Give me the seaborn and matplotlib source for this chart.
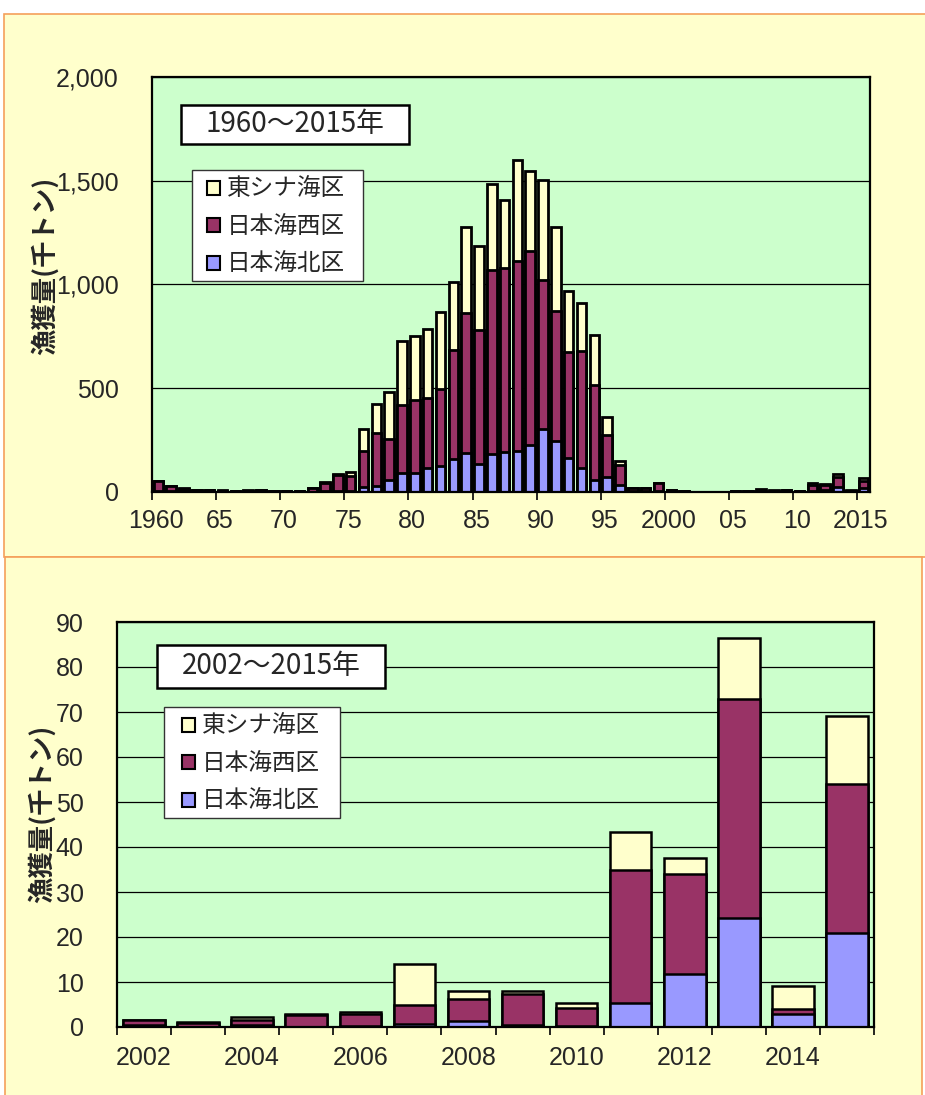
import numpy as np
import pandas as pd
import matplotlib
matplotlib.use('Agg')
import matplotlib.pyplot as plt
import seaborn as sns
from matplotlib.patches import Patch, Rectangle
from matplotlib.font_manager import FontProperties

sns.set_style('white')
plt.rcParams['font.family'] = ['Liberation Sans', 'Noto Sans CJK JP', 'DejaVu Sans']

# 漁獲量 (千トン), 1960〜2015年
years = list(range(1960, 2016))
# 日本海北区
north = [3, 3, 3, 2, 2, 2, 1, 1, 2, 1,
         1, 1, 2, 3, 3, 5, 22, 30, 58, 90,
         90, 114, 127, 159, 186, 135, 183, 191, 199, 226,
         306, 245, 162, 114, 58, 74, 32, 5, 4, 3,
         1, 0.5, 0.4, 0.1, 0.4, 0.1, 0.3, 0.6, 1.3, 0.5,
         0.3, 5.4, 11.7, 24.3, 2.8, 20.8]
# 日本海西区
west = [48, 25, 13, 7, 6, 5, 5, 6, 6, 4,
        2, 3, 15, 42, 77, 70, 175, 252, 197, 331,
        355, 339, 371, 524, 676, 647, 888, 888, 916, 937,
        716, 625, 513, 564, 456, 203, 98, 14, 15, 40,
        8, 3, 1.1, 0.9, 1.1, 2.5, 2.7, 4.2, 5.0, 6.9,
        4.0, 29.4, 22.2, 48.7, 1.1, 33.3]
# 東シナ海区
east = [3, 2, 2, 1, 1, 1, 1, 1, 1, 1,
        1, 1, 3, 5, 7, 20, 109, 141, 227, 305,
        305, 334, 369, 331, 414, 405, 413, 330, 486, 382,
        481, 406, 296, 234, 244, 85, 20, 1, 1, 2,
        1, 0.5, 0.1, 0.1, 0.7, 0.2, 0.3, 9.1, 1.6, 0.6,
        1.1, 8.5, 3.7, 13.4, 5.2, 15.0]

series_names = ['東シナ海区', '日本海西区', '日本海北区']
top_tick_labels = ['1960', '65', '70', '75', '80', '85', '90', '95',
                   '2000', '05', '10', '2015']
top_yticks = [0, 500, 1000, 1500, 2000]
top_ylabels = ['0', '500', '1,000', '1,500', '2,000']
bottom_start = 2002
bottom_yticks = list(range(0, 91, 10))

YELLOW = '#FFFFCC'
PURPLE = '#993366'
BLUE = '#9999FF'
GREEN = '#CCFFCC'
ORANGE = '#F5A05A'

W, H = 925, 1095
fig = plt.figure(figsize=(W / 100, H / 100), dpi=100)
fig.patch.set_facecolor('white')


def fx(px):
    return px / W


def fy(py):
    return 1 - py / H


# panel backgrounds
fig.add_artist(Rectangle((fx(4), fy(557)), fx(930 - 4), (557 - 14) / H,
                         transform=fig.transFigure, fc=YELLOW, ec=ORANGE,
                         lw=1.2, zorder=-2))
fig.add_artist(Rectangle((fx(5), fy(1100)), fx(922 - 5), (1100 - 557) / H,
                         transform=fig.transFigure, fc=YELLOW, ec=ORANGE,
                         lw=1.2, zorder=-1))

df = pd.DataFrame({'year': years, 'north': north, 'west': west, 'east': east})
df['label'] = df['year'].astype(str)
df['nw'] = df['north'] + df['west']
df['total'] = df['nw'] + df['east']


def draw_stack(ax, d, width, lw):
    order = d['label'].tolist()
    for col, c in [('total', YELLOW), ('nw', PURPLE), ('north', BLUE)]:
        sns.barplot(data=d, x='label', y=col, order=order, color=c,
                    saturation=1, width=width, edgecolor='black',
                    linewidth=lw, errorbar=None, ax=ax)
    ax.set_facecolor(GREEN)
    for s in ax.spines.values():
        s.set_visible(True)
        s.set_color('black')
        s.set_linewidth(1.6)
    ax.set_axisbelow(True)
    ax.yaxis.grid(True, color='black', linewidth=0.9)
    ax.xaxis.grid(False)
    ax.set_xlabel('')
    ax.set_ylabel('')
    ax.tick_params(axis='y', left=False, length=0, pad=24, labelsize=18)
    ax.tick_params(axis='x', which='minor', bottom=True, length=6,
                   width=1.2, color='black')
    ax.tick_params(axis='x', which='major', bottom=True, length=0,
                   labelsize=18)


def add_legend(box, anchor):
    # frame drawn separately so padding can match the original box
    x0, y0, x1, y1 = box
    fig.add_artist(Rectangle((fx(x0), fy(y1)), fx(x1 - x0), (y1 - y0) / H,
                             transform=fig.transFigure, fc='white',
                             ec='#333333', lw=1.0, zorder=4))
    handles = [Patch(facecolor=c, edgecolor='black', linewidth=1.5)
               for c in [YELLOW, PURPLE, BLUE]]
    fig.legend(handles, series_names, loc='upper left',
               bbox_to_anchor=(fx(anchor[0]), fy(anchor[1])),
               borderaxespad=0, borderpad=0, frameon=False,
               prop=FontProperties(family='Noto Sans CJK JP', size=17),
               handlelength=0.55, handleheight=0.55, handletextpad=0.3,
               labelspacing=0.62)


def add_title_box(x0, y0, x1, y1, text):
    fig.add_artist(Rectangle((fx(x0), fy(y1)), fx(x1 - x0), (y1 - y0) / H,
                             transform=fig.transFigure, fc='white',
                             ec='black', lw=1.8, zorder=4))
    fig.text(fx((x0 + x1) / 2), fy((y0 + y1) / 2), text, ha='center',
             va='center', fontsize=20, family=['Noto Sans CJK JP'], zorder=5)


# ---- 上段: 1960〜2015年 ----
ax1 = fig.add_axes([fx(152), fy(492), fx(870 - 152), (492 - 77) / H])
draw_stack(ax1, df, 0.74, 2.0)
n = len(df)
ax1.set_xlim(-0.5, n - 0.5)
ax1.set_ylim(0, 2000)
ax1.set_yticks(top_yticks, top_ylabels)
major_pos = [i - 0.2 for i in range(0, n, 5)]
ax1.set_xticks(major_pos, top_tick_labels)
ax1.set_xticks([i - 0.5 for i in range(0, n, 5)], minor=True)
ax1.tick_params(axis='x', which='major', pad=12)
add_legend((192, 170, 363, 281), (207, 178))
add_title_box(181, 105, 409, 144, '1960～2015年')
fig.text(fx(45), fy(266), '漁獲量(千トン)', rotation=90, ha='center',
         va='center', fontsize=19, fontweight='bold',
         family=['Noto Sans CJK JP'])

# ---- 下段: 2002〜2015年 ----
d2 = df[df['year'] >= bottom_start].reset_index(drop=True)
ax2 = fig.add_axes([fx(117), fy(1027), fx(874 - 117), (1027 - 622) / H])
draw_stack(ax2, d2, 0.77, 1.8)
m = len(d2)
ax2.set_xlim(-0.5, m - 0.5)
ax2.set_ylim(0, 90)
ax2.set_yticks(bottom_yticks, [str(v) for v in bottom_yticks])
ax2.set_xticks(list(range(0, m, 2)), d2['label'].tolist()[::2])
ax2.set_xticks([i - 0.5 for i in range(0, m + 1)], minor=True)
ax2.tick_params(axis='x', which='major', pad=14)
add_legend((164, 707, 340, 818), (182, 715))
add_title_box(157, 645, 385, 688, '2002～2015年')
fig.text(fx(42), fy(814), '漁獲量(千トン)', rotation=90, ha='center',
         va='center', fontsize=19, fontweight='bold',
         family=['Noto Sans CJK JP'])

fig.savefig('out.png', dpi=100)
